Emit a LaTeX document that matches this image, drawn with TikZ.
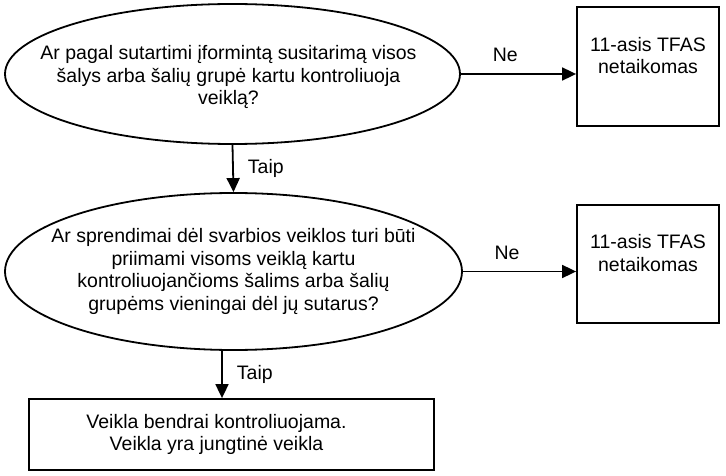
\documentclass[tikz,border=0pt]{standalone}
\usepackage{fontspec}
\setmainfont{Liberation Sans}
\usetikzlibrary{shapes.geometric,arrows.meta}
\begin{document}
\begin{tikzpicture}[x=1pt,y=1pt,
  every node/.style={font=\fontsize{19.5}{22.5}\selectfont},
  dec/.style={ellipse,draw,line width=1.8pt,inner sep=0pt},
  txt/.style={inner sep=0pt,align=center},
  res/.style={draw,line width=1.8pt,inner sep=0pt,align=center},
  arr/.style={line width=1.8pt,-{Triangle[length=14pt,width=13pt]}},
  lbl/.style={inner sep=0pt}]
\useasboundingbox (0,0) rectangle (726,-476);
% decisions
\node[dec,minimum width=455pt,minimum height=140pt] (e1) at (232.5,-74) {};
\node[txt] (t1) at ([xshift=-4pt,yshift=-3pt]e1.center) {Ar pagal sutartimi įformintą susitarimą visos\\šalys arba šalių grupė kartu kontroliuoja\\veiklą?};
\node[dec,minimum width=457pt,minimum height=157pt] (e2) at (233.5,-271.5) {};
\node[txt] (t2) at (e2.center) {Ar sprendimai dėl svarbios veiklos turi būti\\priimami visoms veiklą kartu\\kontroliuojančioms šalims arba šalių\\grupėms vieningai dėl jų sutarus?};
% results
\node[res,minimum width=142pt,minimum height=119pt] (b1) at (648,-66.5) {11-asis TFAS\\netaikomas\\\mbox{}};
\node[res,minimum width=142pt,minimum height=118pt] (b2) at (648,-264) {11-asis TFAS\\netaikomas\\\mbox{}};
\node[res,minimum width=405pt,minimum height=71pt] (b3) at (231.5,-434.5) {Veikla bendrai kontroliuojama.\hspace*{30pt}\\Veikla yra jungtinė veikla\hspace*{30pt}};
% connectors
\draw[arr] (e1.east) -- (e1.east -| b1.west) node[lbl,pos=0.385,above=11pt] {Ne};
\draw[arr] (e2.east) -- (e2.east -| b2.west) node[lbl,pos=0.39,above=11pt] {Ne};
\draw[arr] (e1.south) -- (e2.north) node[lbl,midway,right=14pt] {Taip};
\coordinate (c2) at (222,-375);
\draw[arr] (c2 |- e2.south) -- (c2 |- b3.north) node[lbl,midway,right=14pt] {Taip};
\end{tikzpicture}
\end{document}
